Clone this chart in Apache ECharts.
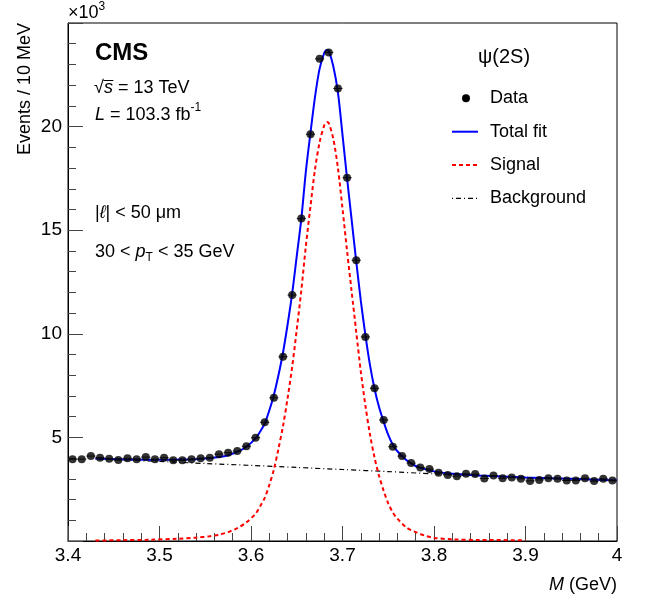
<!DOCTYPE html>
<html>
<head>
<meta charset="utf-8">
<script src="https://cdn.jsdelivr.net/npm/echarts@6/dist/echarts.min.js"></script>
<style>
html,body{margin:0;padding:0;background:#fff;}
#c{width:648px;height:598px;}
</style>
</head>
<body>
<div id="c"></div>
<script>
// ---- Data (values in units of 10^3 events) ----
const binCenters = [3.405,3.415,3.425,3.435,3.445,3.455,3.465,3.475,3.485,3.495,
  3.505,3.515,3.525,3.535,3.545,3.555,3.565,3.575,3.585,3.595,
  3.605,3.615,3.625,3.635,3.645,3.655,3.665,3.675,3.685,3.695,
  3.705,3.715,3.725,3.735,3.745,3.755,3.765,3.775,3.785,3.795,
  3.805,3.815,3.825,3.835,3.845,3.855,3.865,3.875,3.885,3.895,
  3.905,3.915,3.925,3.935,3.945,3.955,3.965,3.975,3.985,3.995];
const dataCounts = [3.95,3.95,4.10,4.02,3.97,3.91,3.99,3.95,4.05,3.94,
  4.02,3.90,3.90,3.94,3.99,4.02,4.19,4.26,4.34,4.57,
  4.98,5.73,6.91,8.89,11.87,15.56,19.63,23.27,23.58,21.84,
  17.53,13.55,9.85,7.37,5.84,4.55,4.10,3.76,3.55,3.47,
  3.29,3.19,3.13,3.24,3.23,3.02,3.16,3.03,3.06,3.00,
  2.90,2.95,3.03,3.00,2.92,2.92,3.03,2.89,3.00,2.92];
const binHalfWidth = 0.005;

const totalX = [3.430,3.460,3.490,3.520,3.540,3.555,3.565,3.575,3.585,3.595,3.605,3.610,3.615,3.620,3.625,3.630,3.635,3.640,3.645,3.650,3.655,3.660,3.665,3.670,3.675,3.680,3.683,3.685,3.690,3.695,3.700,3.705,3.710,3.715,3.720,3.725,3.730,3.735,3.740,3.745,3.750,3.755,3.760,3.770,3.780,3.790,3.800,3.820,3.850,3.900,3.950,4.000];
const totalY = [3.98,3.94,3.92,3.93,3.95,4.00,4.05,4.14,4.30,4.55,4.95,5.28,5.68,6.30,7.05,8.00,9.10,10.45,11.95,13.75,15.55,17.85,19.70,21.45,22.80,23.55,23.70,23.65,22.90,21.65,19.60,17.50,15.50,13.50,11.60,9.95,8.50,7.35,6.45,5.75,5.12,4.65,4.33,3.90,3.62,3.47,3.36,3.24,3.16,3.07,3.00,2.92];

const signalX = [3.430,3.460,3.490,3.520,3.540,3.555,3.565,3.575,3.585,3.595,3.605,3.610,3.615,3.620,3.625,3.630,3.635,3.640,3.645,3.650,3.655,3.660,3.665,3.670,3.675,3.680,3.683,3.685,3.690,3.695,3.700,3.705,3.710,3.715,3.720,3.725,3.730,3.735,3.740,3.745,3.750,3.755,3.760,3.770,3.780,3.790,3.800,3.820,3.850,3.900];
const signalY = [0.02,0.04,0.06,0.11,0.16,0.23,0.30,0.43,0.62,0.90,1.32,1.68,2.08,2.70,3.45,4.45,5.55,6.90,8.40,10.20,12.10,14.25,16.15,17.95,19.25,20.05,20.22,20.17,19.40,18.00,16.05,14.00,12.03,10.10,8.18,6.55,5.15,4.03,3.14,2.42,1.82,1.38,1.08,0.65,0.43,0.26,0.15,0.08,0.05,0.04];

const bkgX = [3.43,3.50,3.55,3.60,3.65,3.70,3.75,3.80,3.85,3.90,3.95,4.00];
const bkgY = [3.96,3.84,3.74,3.65,3.55,3.45,3.35,3.24,3.15,3.07,3.00,2.92];

const xTicks = [3.4,3.5,3.6,3.7,3.8,3.9,4.0];
const yTicks = [5,10,15,20];

// ---- helpers ----
const zip = (a, b) => a.map((v, i) => [v, b[i]]);
const FF = '"Liberation Sans", Arial, sans-serif';
const mctx = document.createElement('canvas').getContext('2d');
function tw(t, f){ mctx.font = f; return mctx.measureText(t).width; }
function runs(x, y, parts, alignRight){
  let total = 0;
  parts.forEach(p => total += tw(p.t, p.f));
  let cx = alignRight ? x - total : x;
  const out = [];
  parts.forEach(p => {
    out.push({type:'text', x:cx, y:y + (p.dy || 0), z:100, silent:true,
      style:{text:p.t, font:p.f, fill:'#000', align:'left', verticalAlign:'middle'}});
    p._x0 = cx; cx += tw(p.t, p.f); p._x1 = cx;
  });
  return out;
}
const F18 = '18px ' + FF, I18 = 'italic 18px ' + FF, F12 = '12px ' + FF;

const graphics = [];
// x10^3
graphics.push(...runs(68, 13, [{t:'\u00d710', f:F18}, {t:'3', f:F12, dy:-6}]));
// CMS
graphics.push(...runs(95, 53, [{t:'CMS', f:'bold 24px ' + FF}]));
// sqrt(s)
const sq = [{t:'\u221a', f:F18}, {t:'s', f:I18}, {t:' = 13 TeV', f:F18}];
graphics.push(...runs(94, 88, sq));
graphics.push({type:'line', z:100, silent:true, shape:{x1:sq[1]._x0 - 0.5, y1:80.5, x2:sq[1]._x1 + 0.5, y2:80.5}, style:{stroke:'#000', lineWidth:1}});
// Luminosity
graphics.push(...runs(95, 115, [{t:'L', f:I18}, {t:' = 103.3 fb', f:F18}, {t:'-1', f:F12, dy:-7}]));
// cuts
graphics.push(...runs(95, 212.7, [{t:'|', f:F18}, {t:'\u2113', f:I18}, {t:'| < 50 \u03bcm', f:F18}]));
graphics.push(...runs(95, 251.7, [{t:'30 < ', f:F18}, {t:'p', f:I18}, {t:'T', f:F12, dy:6}, {t:' < 35 GeV', f:F18}]));
// legend
graphics.push(...runs(478, 57, [{t:'\u03c8(2S)', f:'20px ' + FF}]));
graphics.push({type:'circle', z:100, silent:true, shape:{cx:466, cy:98.3, r:4}, style:{fill:'#000'}});
graphics.push({type:'line', z:100, silent:true, shape:{x1:452, y1:131.7, x2:478, y2:131.7}, style:{stroke:'#0000ff', lineWidth:2}});
graphics.push({type:'line', z:100, silent:true, shape:{x1:452, y1:165, x2:478, y2:165}, style:{stroke:'#ff0000', lineWidth:2, lineDash:[4,3]}});
graphics.push({type:'line', z:100, silent:true, shape:{x1:452, y1:198.3, x2:478, y2:198.3}, style:{stroke:'#000', lineWidth:1.2, lineDash:[1,3,5,3]}});
graphics.push(...runs(490, 98.3, [{t:'Data', f:F18}]));
graphics.push(...runs(490, 131.7, [{t:'Total fit', f:F18}]));
graphics.push(...runs(490, 165, [{t:'Signal', f:F18}]));
graphics.push(...runs(490, 198.3, [{t:'Background', f:F18}]));
// axis titles
graphics.push(...runs(617, 585, [{t:'M', f:I18}, {t:' (GeV)', f:F18}], true));
graphics.push({type:'text', x:25, y:23, rotation:Math.PI/2, z:100, silent:true,
  style:{text:'Events / 10 MeV', font:F18, fill:'#000', align:'right', verticalAlign:'middle'}});

const chart = echarts.init(document.getElementById('c'), null, {renderer:'canvas'});
chart.setOption({
  animation:false,
  backgroundColor:'#fff',
  grid:{left:68, right:31, top:23, bottom:57, show:true, borderColor:'#000', borderWidth:1, backgroundColor:'transparent'},
  xAxis:{type:'value', min:3.4, max:4.0, interval:0.1,
    axisLine:{show:true, onZero:false, lineStyle:{color:'#000', width:1}},
    axisTick:{show:true, inside:true, length:15, lineStyle:{color:'#444'}},
    minorTick:{show:true, splitNumber:5, length:8, lineStyle:{color:'#444'}},
    splitLine:{show:false},
    axisLabel:{fontSize:19, color:'#000', fontFamily:FF, margin:5,
      formatter:v => { const r = Math.round(v*10)/10; return xTicks.some(t => Math.abs(t - r) < 1e-9) ? String(r) : ''; }}
  },
  yAxis:{type:'value', min:0, max:25, interval:5,
    axisLine:{show:true, onZero:false, lineStyle:{color:'#000', width:1}},
    axisTick:{show:true, inside:true, length:15, lineStyle:{color:'#444'}},
    minorTick:{show:true, splitNumber:5, length:8, lineStyle:{color:'#444'}},
    splitLine:{show:false},
    axisLabel:{fontSize:19, color:'#000', fontFamily:FF, margin:6,
      formatter:v => yTicks.indexOf(Math.round(v)) >= 0 ? String(Math.round(v)) : ''}
  },
  graphic:graphics,
  series:[
    {name:'Background', type:'line', data:zip(bkgX, bkgY), showSymbol:false, smooth:0.3, silent:true, z:2,
      lineStyle:{color:'#000', width:1.2, type:[1,3,5,3]}},
    {name:'Signal', type:'line', data:zip(signalX, signalY), showSymbol:false, smooth:0.3, silent:true, z:3,
      lineStyle:{color:'#ff0000', width:2, type:[4,3]}},
    {name:'Total fit', type:'line', data:zip(totalX, totalY), showSymbol:false, smooth:0.3, silent:true, z:4,
      lineStyle:{color:'#0000ff', width:2}},
    {name:'Data errors', type:'custom', data:zip(binCenters, dataCounts), silent:true, z:5,
      renderItem:(params, api) => {
        const x = api.value(0), y = api.value(1);
        const p1 = api.coord([x - binHalfWidth, y]), p2 = api.coord([x + binHalfWidth, y]);
        return {type:'line', shape:{x1:p1[0], y1:p1[1], x2:p2[0], y2:p2[1]}, style:{stroke:'#222', lineWidth:1}};
      }},
    {name:'Data', type:'scatter', data:zip(binCenters, dataCounts), symbol:'circle', symbolSize:8, silent:true, z:6,
      itemStyle:{color:'#000'}}
  ]
});
</script>
</body>
</html>
